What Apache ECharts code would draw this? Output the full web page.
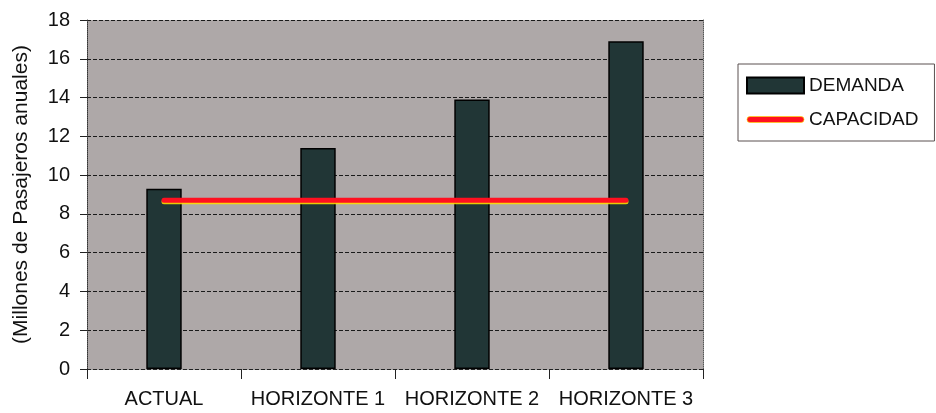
<!DOCTYPE html>
<html>
<head>
<meta charset="utf-8">
<script src="https://cdn.jsdelivr.net/npm/echarts@6/dist/echarts.min.js"></script>
<style>
  html, body { margin: 0; padding: 0; background: #ffffff; }
  #chart { width: 936px; height: 413px; }
</style>
</head>
<body>
<div id="chart"></div>
<script>
// Demand per planning horizon vs. current terminal capacity
const categories = ['ACTUAL', 'HORIZONTE 1', 'HORIZONTE 2', 'HORIZONTE 3'];
const demanda = [9.3, 11.4, 13.9, 16.9];
const capacidad = [8.7, 8.7, 8.7, 8.7];
const yTicks = { min: 0, max: 18, interval: 2 };

const FONT = '"Liberation Sans", Arial, sans-serif';
const RED = '#ff1020';

const chart = echarts.init(document.getElementById('chart'), null, { renderer: 'canvas' });

chart.setOption({
  animation: false,
  backgroundColor: '#ffffff',
  textStyle: { fontFamily: FONT },
  grid: {
    left: 87, right: 233, top: 20, bottom: 44,
    show: true, backgroundColor: '#aea8a8', borderWidth: 0
  },
  legend: {
    orient: 'vertical',
    left: 738, top: 64,
    padding: [12, 16, 12, 8],
    itemGap: 15,
    itemWidth: 57, itemHeight: 16,
    backgroundColor: '#ffffff',
    borderColor: '#5a5050', borderWidth: 1,
    textStyle: { fontSize: 19, color: '#111', fontFamily: FONT },
    data: [
      { name: 'DEMANDA', icon: 'rect' },
      {
        name: 'CAPACIDAD',
        icon: 'path://M3,0H54A3,3 0 0 1 54,6H3A3,3 0 0 1 3,0Z',
        itemStyle: { color: RED, borderColor: 'rgba(255,220,0,0.8)', borderWidth: 0.8 }
      }
    ]
  },
  xAxis: [{
    type: 'category',
    data: categories,
    axisLine: { show: true, lineStyle: { color: '#222', width: 1, type: 'dashed' } },
    axisTick: { show: true, interval: 0, length: 10, lineStyle: { color: '#222' } },
    axisLabel: { interval: 0, fontSize: 20, color: '#111', margin: 20, fontFamily: FONT },
    splitLine: { show: false }
  }],
  yAxis: [{
    type: 'value',
    min: yTicks.min, max: yTicks.max, interval: yTicks.interval,
    name: '(Millones de Pasajeros anuales)',
    nameLocation: 'middle',
    nameGap: 55,
    nameTextStyle: { fontSize: 21, color: '#111', fontFamily: FONT },
    axisLine: { show: true, lineStyle: { color: '#333', type: 'dotted' } },
    axisTick: { show: true, length: 7, lineStyle: { color: '#222' } },
    axisLabel: { fontSize: 20, color: '#111', margin: 17, fontFamily: FONT },
    splitLine: { show: true, lineStyle: { color: '#1a1a1a', type: [4, 2], width: 1 } }
  }, {
    type: 'value',
    position: 'right',
    min: yTicks.min, max: yTicks.max, interval: yTicks.interval,
    axisLine: { show: true, lineStyle: { color: '#555', type: 'dotted' } },
    axisTick: { show: false },
    axisLabel: { show: false },
    splitLine: { show: false }
  }],
  series: [{
    name: 'DEMANDA',
    type: 'bar',
    data: demanda,
    barWidth: '23%',
    itemStyle: { color: '#213636', borderColor: '#000', borderWidth: 1.5 }
  }, {
    name: 'CAPACIDAD',
    type: 'line',
    data: capacidad,
    symbol: 'none',
    z: 5,
    lineStyle: {
      color: RED, width: 5, cap: 'round',
      shadowColor: 'rgba(255,220,0,0.9)', shadowBlur: 0, shadowOffsetY: 1.5
    },
    itemStyle: { color: RED }
  }]
});
</script>
</body>
</html>
